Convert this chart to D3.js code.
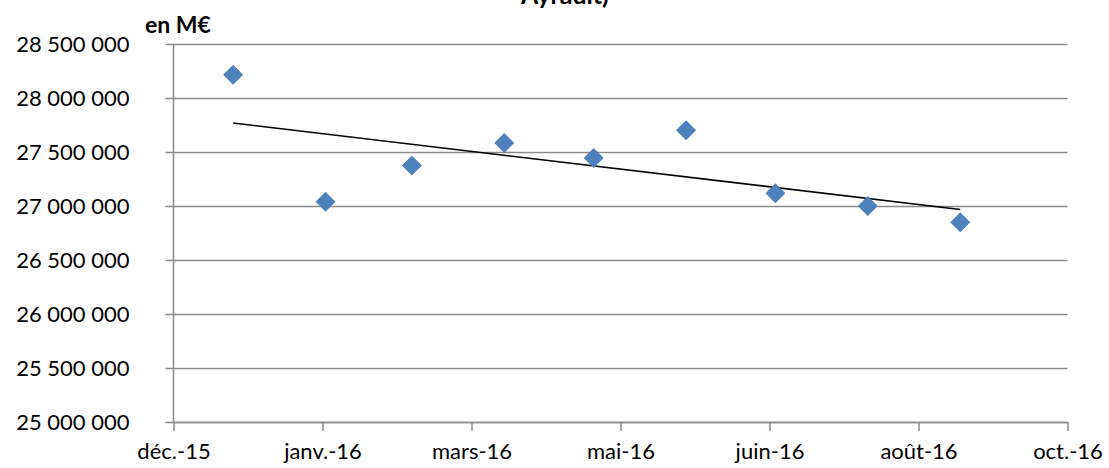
<!DOCTYPE html>
<html>
<head>
<meta charset="utf-8">
<script src="https://cdn.jsdelivr.net/npm/d3@7"></script>
<style>
  html, body { margin: 0; padding: 0; background: #ffffff; }
  svg { display: block; }
  text { font-family: Lato, "Open Sans", "Liberation Sans", sans-serif; fill: #000; }
</style>
</head>
<body>
<svg id="chart" width="1109" height="468"></svg>
<script>
// Monthly outstanding amounts (en M€), end of month
const dates = ["2015-12-31", "2016-01-31", "2016-02-29", "2016-03-31", "2016-04-30",
               "2016-05-31", "2016-06-30", "2016-07-31", "2016-08-31"];
const values = [28216000, 27040000, 27374000, 27584000, 27444000,
                27701000, 27118000, 27000000, 26849000];

// Date axis: bounds and major ticks every 50 days
const xDomain = ["2015-12-11", "2016-10-06"];
const tickDates = ["2015-12-11", "2016-01-30", "2016-03-20", "2016-05-09",
                   "2016-06-28", "2016-08-17", "2016-10-06"];
const tickLabels = ["déc.-15", "janv.-16", "mars-16", "mai-16",
                    "juin-16", "août-16", "oct.-16"];

// Value axis
const yDomain = [25000000, 28500000];
const yTicks = [25000000, 25500000, 26000000, 26500000, 27000000, 27500000, 28000000, 28500000];

const titleTail = "Ayrault)";
const unitLabel = "en M€";

(function draw() {
  const parse = d3.utcParse("%Y-%m-%d");
  const points = dates.map((d, i) => ({ date: parse(d), value: values[i] }));

  const svg = d3.select("#chart");
  const plot = { left: 173.5, right: 1067.5, top: 44, bottom: 422 };

  const x = d3.scaleUtc().domain(xDomain.map(parse)).range([plot.left, plot.right]);
  const y = d3.scaleLinear().domain(yDomain).range([plot.bottom, plot.top]);

  const fr = d3.formatLocale({ decimal: ",", thousands: " ", grouping: [3], currency: ["", " €"] });
  const fmtY = fr.format(",d");

  const gridColor = "#8a8a8a";
  const labelFont = "Lato, 'Open Sans', sans-serif";

  // Horizontal gridlines with outside tick marks on the value axis
  const yAxis = d3.axisLeft(y).tickValues(yTicks).tickFormat(fmtY)
    .tickSize(0).tickSizeOuter(0);
  const gy = svg.append("g").attr("transform", `translate(${plot.left},0)`).call(yAxis);
  gy.select(".domain").remove();
  gy.selectAll(".tick line")
    .attr("x1", -8)
    .attr("x2", plot.right - plot.left)
    .attr("stroke", gridColor).attr("stroke-width", 1.5);
  gy.selectAll(".tick text")
    .attr("x", -44)
    .style("font-size", "22px")
    .style("font-family", labelFont)
    .attr("fill", "#000");

  // Vertical axis line
  svg.append("line")
    .attr("x1", plot.left).attr("x2", plot.left).attr("y1", plot.top).attr("y2", plot.bottom)
    .attr("stroke", gridColor).attr("stroke-width", 1.5);

  // Date axis along the bottom
  const xAxis = d3.axisBottom(x).tickValues(tickDates.map(parse))
    .tickFormat((d, i) => tickLabels[i]).tickSize(9).tickSizeOuter(0).tickPadding(12);
  const gx = svg.append("g").attr("transform", `translate(0,${plot.bottom})`).call(xAxis);
  gx.select(".domain").attr("stroke", gridColor).attr("stroke-width", 1.5);
  gx.selectAll(".tick line").attr("stroke", gridColor).attr("stroke-width", 1.5);
  gx.selectAll(".tick text")
    .style("font-size", "22px")
    .style("font-family", labelFont)
    .attr("fill", "#000");

  // Linear trend (least squares on time)
  const xs = points.map(p => p.date.getTime());
  const ys = points.map(p => p.value);
  const mx = d3.mean(xs), my = d3.mean(ys);
  const slope = d3.sum(xs.map((v, i) => (v - mx) * (ys[i] - my))) / d3.sum(xs.map(v => (v - mx) ** 2));
  const intercept = my - slope * mx;
  const t0 = d3.min(xs), t1 = d3.max(xs);
  svg.append("line")
    .attr("x1", x(new Date(t0))).attr("y1", y(intercept + slope * t0))
    .attr("x2", x(new Date(t1))).attr("y2", y(intercept + slope * t1))
    .attr("stroke", "#000").attr("stroke-width", 1.6);

  // Diamond markers
  const diamond = d3.symbol().type(d3.symbolSquare).size(200);
  svg.append("g").selectAll("path").data(points).join("path")
    .attr("d", diamond)
    .attr("transform", d => `translate(${x(d.date)},${y(d.value)}) rotate(45)`)
    .attr("fill", "#4f81bd");

  // Title (only its end falls within the frame) and unit label
  svg.append("text")
    .attr("x", 565).attr("y", 4)
    .attr("text-anchor", "middle")
    .style("font-size", "25px").style("font-weight", "bold")
    .text(titleTail);

  svg.append("text")
    .attr("x", 145).attr("y", 33)
    .style("font-size", "23px").style("font-weight", "bold")
    .text(unitLabel);
})();
</script>
</body>
</html>
